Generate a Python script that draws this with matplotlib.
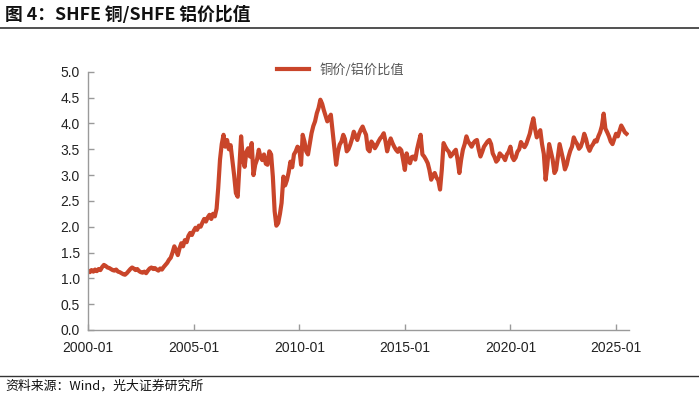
import matplotlib
matplotlib.use("Agg")
import matplotlib.pyplot as plt
import numpy as np
import pandas as pd

plt.rcParams["font.family"] = ["Noto Sans CJK SC", "DejaVu Sans"]

# monthly copper/aluminium price ratio
y2000 = [1.15, 1.12, 1.16, 1.13, 1.17, 1.14, 1.18, 1.16, 1.22, 1.26, 1.24, 1.21]
y2001 = [1.20, 1.18, 1.16, 1.15, 1.17, 1.13, 1.12, 1.10, 1.08, 1.07, 1.10, 1.14]
y2002 = [1.18, 1.21, 1.19, 1.16, 1.18, 1.14, 1.12, 1.11, 1.13, 1.10, 1.15, 1.19]
y2003 = [1.21, 1.18, 1.20, 1.17, 1.15, 1.19, 1.17, 1.22, 1.26, 1.30, 1.36, 1.40]
y2004 = [1.50, 1.62, 1.55, 1.45, 1.58, 1.68, 1.62, 1.74, 1.70, 1.82, 1.88, 1.84]
y2005 = [1.92, 1.98, 1.94, 2.02, 2.00, 2.08, 2.15, 2.10, 2.18, 2.23, 2.15, 2.25]
y2006 = [2.20, 2.35, 2.75, 3.30, 3.60, 3.78, 3.55, 3.68, 3.50, 3.58, 3.29, 3.00]
y2007 = [2.65, 2.58, 3.15, 3.75, 3.30, 3.16, 3.45, 3.52, 3.36, 3.62, 3.00, 3.20]
y2008 = [3.30, 3.49, 3.35, 3.29, 3.40, 3.22, 3.20, 3.46, 3.40, 2.97, 2.30, 2.02]
y2009 = [2.07, 2.25, 2.46, 2.97, 2.80, 2.90, 3.05, 3.26, 3.15, 3.40, 3.46, 3.55]
y2010 = [3.52, 3.20, 3.78, 3.65, 3.46, 3.40, 3.60, 3.81, 3.95, 4.04, 4.20, 4.30]
y2011 = [4.46, 4.38, 4.26, 4.15, 4.04, 4.10, 4.17, 3.84, 3.50, 3.20, 3.45, 3.59]
y2012 = [3.65, 3.78, 3.70, 3.46, 3.50, 3.59, 3.70, 3.84, 3.75, 3.68, 3.80, 3.88]
y2013 = [3.94, 3.85, 3.78, 3.50, 3.46, 3.65, 3.60, 3.52, 3.58, 3.65, 3.71, 3.75]
y2014 = [3.81, 3.65, 3.46, 3.60, 3.71, 3.62, 3.55, 3.49, 3.45, 3.52, 3.48, 3.30]
y2015 = [3.10, 3.42, 3.29, 3.23, 3.35, 3.36, 3.30, 3.50, 3.65, 3.78, 3.40, 3.36]
y2016 = [3.30, 3.23, 3.10, 2.91, 3.00, 3.04, 2.95, 2.90, 2.72, 3.10, 3.62, 3.55]
y2017 = [3.49, 3.45, 3.36, 3.40, 3.45, 3.49, 3.30, 3.04, 3.30, 3.49, 3.60, 3.75]
y2018 = [3.65, 3.60, 3.55, 3.62, 3.66, 3.68, 3.50, 3.36, 3.45, 3.55, 3.60, 3.65]
y2019 = [3.68, 3.60, 3.42, 3.35, 3.26, 3.30, 3.42, 3.38, 3.35, 3.29, 3.40, 3.45]
y2020 = [3.55, 3.35, 3.29, 3.34, 3.45, 3.50, 3.64, 3.58, 3.54, 3.60, 3.70, 3.80]
y2021 = [3.96, 4.10, 3.90, 3.73, 3.80, 3.87, 3.60, 3.41, 2.91, 3.20, 3.60, 3.45]
y2022 = [3.30, 3.04, 3.10, 3.35, 3.60, 3.45, 3.30, 3.11, 3.20, 3.35, 3.47, 3.55]
y2023 = [3.73, 3.65, 3.60, 3.51, 3.55, 3.65, 3.80, 3.70, 3.55, 3.47, 3.55, 3.60]
y2024 = [3.67, 3.65, 3.75, 3.83, 3.95, 4.19, 3.90, 3.83, 3.75, 3.65, 3.60, 3.70]
y2025 = [3.80, 3.75, 3.85, 3.96, 3.90, 3.83, 3.80]

ratio = (y2000 + y2001 + y2002 + y2003 + y2004 + y2005 + y2006 + y2007 + y2008
         + y2009 + y2010 + y2011 + y2012 + y2013 + y2014 + y2015 + y2016 + y2017
         + y2018 + y2019 + y2020 + y2021 + y2022 + y2023 + y2024 + y2025)
dates = pd.date_range("2000-01-01", periods=len(ratio), freq="MS")

title = "图 4：SHFE 铜/SHFE 铝价比值"
source = "资料来源：Wind，光大证券研究所"
series_name = "铜价/铝价比值"
yticks = np.arange(0, 5.01, 0.5)
xtick_years = [2000, 2005, 2010, 2015, 2020, 2025]

LINE = "#C9452A"
AXIS = "#9a9a9a"
NUM_FONT = ["Liberation Sans Narrow", "Liberation Sans", "DejaVu Sans"]

fig = plt.figure(figsize=(6.99, 3.99), dpi=100)
ax = fig.add_axes([0.126, 0.173, 0.774, 0.647])

ax.plot(dates, ratio, color=LINE, linewidth=3.0, label=series_name,
        solid_joinstyle="round")

ax.set_ylim(0, 5.0)
ax.set_yticks(yticks)
ax.set_yticklabels([f"{v:.1f}" for v in yticks], family=NUM_FONT, fontsize=10)
ax.set_xlim(pd.Timestamp("2000-01-01"), pd.Timestamp("2025-08-15"))
xt = [pd.Timestamp(f"{y}-01-01") for y in xtick_years]
ax.set_xticks(xt)
ax.set_xticklabels([f"{y}-01" for y in xtick_years], family=NUM_FONT, fontsize=10)

for s in ("top", "right"):
    ax.spines[s].set_visible(False)
for s in ("left", "bottom"):
    ax.spines[s].set_color(AXIS)
    ax.spines[s].set_linewidth(1.0)
ax.tick_params(axis="both", direction="in", length=4, color=AXIS, width=1.0,
               labelcolor="#222222")
ax.tick_params(axis="x", pad=8)
ax.tick_params(axis="y", pad=6)

fig.legend(loc="center", bbox_to_anchor=(0.487, 0.825), frameon=False,
           handlelength=2.4, fontsize=9.5, labelcolor="#555555")

fig.text(0.007, 0.962, title, fontsize=12.8, fontweight="bold", va="center",
         ha="left", color="#111111")
fig.add_artist(plt.Line2D([0.0, 1.0], [0.93, 0.93], color="#333333",
                          linewidth=1.2, transform=fig.transFigure))
fig.add_artist(plt.Line2D([0.0, 1.0], [0.057, 0.057], color="#333333",
                          linewidth=1.0, transform=fig.transFigure))
fig.text(0.007, 0.032, source, fontsize=9.3, va="center", ha="left",
         color="#111111")

fig.savefig("out.png", dpi=100)
